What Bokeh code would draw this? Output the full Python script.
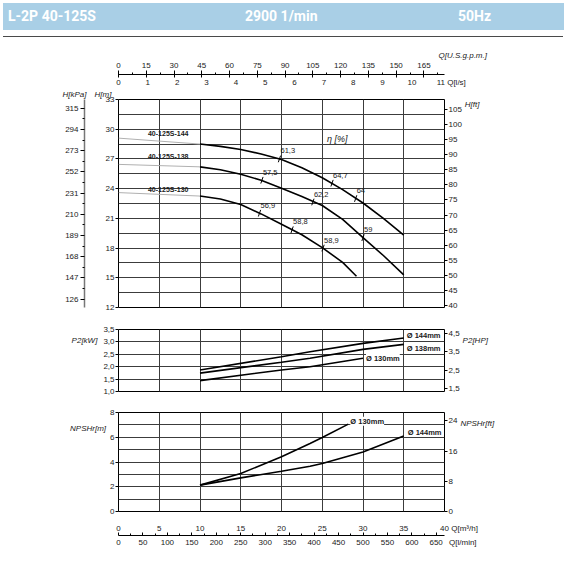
from bokeh.plotting import figure
from bokeh.models import Range1d, LinearAxis, FixedTicker, CustomJSTickFormatter, Label, Div, Title
from bokeh.layouts import column
from bokeh.embed import file_html
from bokeh.resources import INLINE
from bokeh.core.properties import value

FONT = "Liberation Sans"

# ---------------- data ----------------
# H-Q curves, Q in m3/h, H in m
q_h144 = [10, 12.5, 15, 17.5, 20, 22.5, 25, 27.5, 30, 32.5, 35]
h_h144 = [28.5, 28.27, 27.95, 27.5, 26.95, 26.1, 25.1, 23.9, 22.55, 21.0, 19.3]
q_h138 = [10, 12.5, 15, 17.5, 20, 22.5, 25, 27.5, 30, 32.5, 35]
h_h138 = [26.2, 25.9, 25.45, 24.85, 24.05, 23.2, 22.3, 20.9, 19.05, 17.25, 15.3]
q_h130 = [10, 12.5, 15, 17.5, 20, 22.5, 25, 27.5, 29.2]
h_h130 = [23.25, 22.95, 22.4, 21.45, 20.4, 19.35, 18.05, 16.55, 15.15]

# thin extensions towards Q = 0
q_ext = [0, 10]
h_ext144 = [29.1, 28.5]
h_ext138 = [26.45, 26.2]
h_ext130 = [23.6, 23.25]

curve_names = ["40-125S-144", "40-125S-138", "40-125S-130"]

# efficiency marks on the curves
eta_q144 = [19.75, 26.2, 29.1]
eta_h144 = [27.0, 24.55, 23.0]
eta_t144 = ["61,3", "64,7", "64"]
eta_q138 = [17.6, 23.85, 30.0]
eta_h138 = [24.85, 22.65, 19.05]
eta_t138 = ["57,5", "62,2", "59"]
eta_q130 = [17.3, 21.3, 25.1]
eta_h130 = [21.52, 19.85, 18.0]
eta_t130 = ["56,9", "58,8", "58,9"]

# P2 power curves, kW
q_p144 = [10, 20, 23.5, 30, 35]
p_p144 = [1.87, 2.40, 2.60, 2.94, 3.16]
q_p138 = [10, 20, 23.5, 30, 35]
p_p138 = [1.74, 2.18, 2.34, 2.70, 2.90]
q_p130 = [10, 20, 23.5, 30]
p_p130 = [1.44, 1.87, 2.00, 2.34]

# NPSHr curves, m
q_n130 = [10, 15, 20, 23.5, 25, 28.2]
n_n130 = [2.13, 3.07, 4.42, 5.5, 5.98, 7.06]
q_n144 = [10, 15, 20, 23.5, 25, 30, 35]
n_n144 = [2.13, 2.72, 3.25, 3.66, 3.88, 4.8, 6.1]

# tick labels
ticks_q_m3h = [0, 5, 10, 15, 20, 25, 30, 35, 40]
ticks_q_ls = list(range(0, 12))
ticks_q_gpm = list(range(0, 166, 15))
ticks_q_lmin = list(range(0, 651, 50))
ticks_h_m = [12, 15, 18, 21, 24, 27, 30, 33]
ticks_h_kpa = [126, 147, 168, 189, 210, 231, 252, 273, 294, 315]
ticks_h_ft = list(range(40, 106, 5))
ticks_p_kw = [1.0, 1.5, 2.0, 2.5, 3.0, 3.5]
ticks_p_hp = [1.5, 2.5, 3.5, 4.5]
ticks_n_m = [0, 2, 4, 6, 8]
ticks_n_ft = [0, 8, 16, 24]

# unit conversions
M_TO_KPA = 9.81
M_TO_FT = 3.2808
M3H_TO_LS = 1 / 3.6
M3H_TO_GPM = 4.4029
M3H_TO_LMIN = 1000 / 60
KW_TO_HP = 1.341

Q_MAX = 40
H_RANGE = (12, 33)
P_RANGE = (1.0, 3.5)
N_RANGE = (0, 8)

W = 564
FL = 118          # frame left border
FW = 326          # frame width
GRID_COLOR = "#3c3c3c"
TICK_SIZE = "8px"
TXT = "#1a1a1a"
COMMA = CustomJSTickFormatter(code="return tick.toFixed(1).replace('.', ',');")


def end_label_formatter(last_tick, unit_text, pad):
    # the last tick carries the axis name on its right, padded on the left so the
    # number itself stays centred on its tick
    code = ("if (Math.abs(tick - %s) < 1e-9) { return '%s' + tick.toFixed(0) + '%s'; }"
            " return tick.toFixed(0);") % (last_tick, pad, unit_text)
    return CustomJSTickFormatter(code=code)


def base_fig(height, yr, top, bottom, x_axis=None):
    p = figure(width=W, height=height, x_range=Range1d(0, Q_MAX), y_range=Range1d(*yr),
               output_backend="svg", toolbar_location=None,
               x_axis_location=x_axis, y_axis_location="left",
               min_border_left=FL, min_border_right=W - FL - FW,
               min_border_top=top, min_border_bottom=bottom)
    p.outline_line_color = "black"
    p.outline_line_width = 1
    p.background_fill_color = "white"
    p.border_fill_color = "white"
    p.xgrid.ticker = FixedTicker(ticks=[5, 10, 15, 20, 25, 30, 35])
    p.grid.grid_line_color = GRID_COLOR
    p.grid.grid_line_width = 1
    return p


def style_axis(ax, size=TICK_SIZE):
    ax.major_label_text_font = FONT
    ax.major_label_text_font_size = size
    ax.major_label_text_color = TXT
    ax.axis_line_color = "black"
    ax.major_tick_line_color = "black"
    ax.minor_tick_line_color = "black"
    ax.major_tick_in = 0
    ax.major_tick_out = 3
    ax.minor_tick_in = 0
    ax.minor_tick_out = 0
    ax.major_label_standoff = 1


def name_axis(ax, text, standoff, drop_lines):
    # horizontal axis name at the top end of a vertical axis; blank leading lines
    # push the visible line a little below the frame's top edge
    ax.axis_label = "\u00a0\n" * drop_lines + text
    ax.axis_label_orientation = "horizontal"
    ax.axis_label_align = "end"
    ax.axis_label_standoff = standoff
    ax.axis_label_text_font = FONT
    ax.axis_label_text_font_size = "8px"
    ax.axis_label_text_font_style = "italic"
    ax.axis_label_text_color = TXT


def add_label(p, x, y, text, size="8px", style="italic", align="left", bg=None,
              x_off=0, y_off=0):
    lab = Label(x=x, y=y, text=text, text_font=FONT, text_font_size=size,
                text_font_style=style, text_align=align, text_baseline="middle",
                x_offset=x_off, y_offset=y_off, text_color=TXT)
    if bg:
        lab.background_fill_color = bg
    p.add_layout(lab)


def side_title(text, offset, standoff):
    return Title(text=text, align="left", offset=offset, standoff=standoff,
                 text_font=FONT, text_font_size="8px", text_font_style="italic",
                 text_color=TXT)


# ---------------- header ----------------
span = ("position:absolute;top:3px;line-height:27px;color:white;font-weight:bold;"
        "font-size:14px;font-family:'Roboto',sans-serif;")
html = (
    '<div style="position:relative;width:%dpx;height:40px;">' % W
    + '<div style="position:absolute;left:3px;top:3px;width:561px;height:27px;background:#a9cfe6;"></div>'
    + '<span style="%sleft:8px;">L-2P 40-125S</span>' % span
    + '<span style="%sleft:245px;">2900 1/min</span>' % span
    + '<span style="%sleft:458px;">50Hz</span>' % span
    + '<div style="position:absolute;left:3px;top:36px;width:560px;height:0;border-top:1.5px solid #4a4a4a;"></div>'
    + '</div>'
)
header = Div(text=html, width=W, height=40, margin=0)

# ---------------- H-Q panel ----------------
p1 = base_fig(278, H_RANGE, 59, 11)
p1.ygrid.ticker = FixedTicker(ticks=[13.5 + 1.5 * i for i in range(13)])

ax = p1.yaxis[0]
style_axis(ax)
ax.ticker = FixedTicker(ticks=ticks_h_m)
ax.axis_line_color = None
ax.axis_label = " "
ax.axis_label_text_font_size = "10px"
ax.axis_label_standoff = 4

p1.extra_y_ranges = {
    "kpa": Range1d(H_RANGE[0] * M_TO_KPA, H_RANGE[1] * M_TO_KPA),
    "ft": Range1d(H_RANGE[0] * M_TO_FT, H_RANGE[1] * M_TO_FT),
}
p1.extra_x_ranges = {
    "ls": Range1d(0, Q_MAX * M3H_TO_LS),
    "gpm": Range1d(0, Q_MAX * M3H_TO_GPM),
}
kpa_ax = LinearAxis(y_range_name="kpa",
                    ticker=FixedTicker(ticks=ticks_h_kpa,
                                       minor_ticks=[t + 10.5 for t in ticks_h_kpa]))
style_axis(kpa_ax)
kpa_ax.major_tick_out = 4
kpa_ax.minor_tick_out = 2
kpa_ax.major_label_standoff = 2
kpa_ax.axis_line_color = "#777777"
kpa_ax.axis_line_width = 1.5
p1.add_layout(kpa_ax, "left")

ft_ax = LinearAxis(y_range_name="ft", ticker=FixedTicker(ticks=ticks_h_ft))
style_axis(ft_ax)
ft_ax.axis_line_color = None
name_axis(ft_ax, "H[ft]", 0, 1)
p1.add_layout(ft_ax, "right")

# titles of the two left axes, just above the frame
p1.add_layout(side_title("H[kPa]\u2002\u2002H[m]", 62 - FL, 1), "above")

ls_ax = LinearAxis(x_range_name="ls", ticker=FixedTicker(ticks=ticks_q_ls),
                   formatter=end_label_formatter(11, " Q[l/s]", "\\u2007" * 4 + "\\u2008"))
style_axis(ls_ax)
ls_ax.axis_line_color = None
ls_ax.major_tick_line_color = None
ls_ax.major_tick_out = 0
ls_ax.major_label_standoff = 1
p1.add_layout(ls_ax, "above")

gpm_ax = LinearAxis(x_range_name="gpm",
                    ticker=FixedTicker(ticks=ticks_q_gpm,
                                       minor_ticks=[t + 7.5 for t in ticks_q_gpm]))
style_axis(gpm_ax)
gpm_ax.major_tick_out = 4
gpm_ax.major_tick_in = 3
gpm_ax.minor_tick_out = 2
gpm_ax.major_label_standoff = 3
p1.add_layout(gpm_ax, "above")
p1.add_layout(side_title("Q[U.S.g.p.m.]", 438 - FL, 0), "above")

for qe, he in [(q_ext, h_ext144), (q_ext, h_ext138), (q_ext, h_ext130)]:
    p1.line(qe, he, line_color="#b0b0b0", line_width=1)
for qc, hc in [(q_h144, h_h144), (q_h138, h_h138), (q_h130, h_h130)]:
    p1.line(qc, hc, line_color="black", line_width=1.6)

p1.text(x=[6.1, 6.1, 6.1], y=[29.57, 27.2, 23.9], text=curve_names,
        text_font=value(FONT), text_font_size="7px", text_font_style="bold",
        text_align="center", text_baseline="middle", text_color=TXT)

for eq, eh, et in [(eta_q144, eta_h144, eta_t144), (eta_q138, eta_h138, eta_t138),
                   (eta_q130, eta_h130, eta_t130)]:
    p1.scatter(eq, eh, marker="dash", size=7, angle=1.24, line_color="black", line_width=1)
    p1.text(x=eq, y=eh, text=et, x_offset=1, y_offset=-8, text_font=value(FONT),
            text_font_size="7.5px", text_align="left", text_baseline="middle",
            text_color=TXT)

add_label(p1, 26.84, 29.06, "η [%]", size="9px", align="center")

# ---------------- P2 panel ----------------
p2 = base_fig(83, P_RANGE, 11, 10)
p2.ygrid.ticker = FixedTicker(ticks=[1.5, 2.0, 2.5, 3.0])
ax = p2.yaxis[0]
style_axis(ax)
ax.ticker = FixedTicker(ticks=ticks_p_kw)
ax.formatter = COMMA
ax.axis_line_color = None
name_axis(ax, "P2[kW]", 3, 2)

p2.extra_y_ranges = {"hp": Range1d(P_RANGE[0] * KW_TO_HP, P_RANGE[1] * KW_TO_HP)}
hp_ax = LinearAxis(y_range_name="hp", ticker=FixedTicker(ticks=ticks_p_hp), formatter=COMMA)
style_axis(hp_ax)
hp_ax.axis_line_color = None
name_axis(hp_ax, "P2[HP]", 0, 2)
p2.add_layout(hp_ax, "right")

for qc, pc in [(q_p144, p_p144), (q_p138, p_p138), (q_p130, p_p130)]:
    p2.line(qc, pc, line_color="black", line_width=1.6)

add_label(p2, q_p144[-1], p_p144[-1], "Ø 144mm", size="7.5px", style="bold", bg="white", x_off=3, y_off=2)
add_label(p2, q_p138[-1], p_p138[-1], "Ø 138mm", size="7.5px", style="bold", bg="white", x_off=3, y_off=-4)
add_label(p2, q_p130[-1], p_p130[-1], "Ø 130mm", size="7.5px", style="bold", bg="white", x_off=3, y_off=0)

# ---------------- NPSH panel ----------------
p3 = base_fig(155, N_RANGE, 11, 45, x_axis="below")
p3.ygrid.ticker = FixedTicker(ticks=[1, 2, 3, 4, 5, 6, 7])
ax = p3.yaxis[0]
style_axis(ax)
ax.ticker = FixedTicker(ticks=ticks_n_m)
ax.axis_line_color = None
name_axis(ax, "NPSHr[m]", 1, 3)

p3.extra_y_ranges = {"ft": Range1d(N_RANGE[0] * M_TO_FT, N_RANGE[1] * M_TO_FT)}
p3.extra_x_ranges = {"lmin": Range1d(0, Q_MAX * M3H_TO_LMIN)}
nft_ax = LinearAxis(y_range_name="ft", ticker=FixedTicker(ticks=ticks_n_ft))
style_axis(nft_ax)
nft_ax.axis_line_color = None
name_axis(nft_ax, "NPSHr[ft]", 0, 2)
p3.add_layout(nft_ax, "right")

xax = p3.xaxis[0]
style_axis(xax)
xax.ticker = FixedTicker(ticks=ticks_q_m3h)
xax.formatter = end_label_formatter(40, " Q[m³/h]", "\\u2007" * 6 + "\\u2008")
xax.axis_line_color = None
xax.major_tick_line_color = None
xax.major_tick_out = 0
xax.major_label_standoff = 12

lmin_ax = LinearAxis(x_range_name="lmin",
                     ticker=FixedTicker(ticks=ticks_q_lmin,
                                        minor_ticks=[t + 25 for t in ticks_q_lmin]),
                     formatter=end_label_formatter(650, "\\u2002 Q[l/min]",
                                                   "\\u2007" * 7 + "\\u2008"))
style_axis(lmin_ax)
lmin_ax.major_tick_out = 0
lmin_ax.major_tick_in = 3
lmin_ax.minor_tick_in = 2
lmin_ax.major_label_standoff = 2
p3.add_layout(lmin_ax, "below")

for qc, nc in [(q_n130, n_n130), (q_n144, n_n144)]:
    p3.line(qc, nc, line_color="black", line_width=1.6)

add_label(p3, q_n130[-1], n_n130[-1], "Ø 130mm", size="7.5px", style="bold", bg="white", x_off=2, y_off=3)
add_label(p3, q_n144[-1], n_n144[-1], "Ø 144mm", size="7.5px", style="bold", bg="white", x_off=4, y_off=3.5)

layout = column(header, p1, p2, p3, spacing=0)
open("out.html", "w").write(file_html(layout, INLINE))
